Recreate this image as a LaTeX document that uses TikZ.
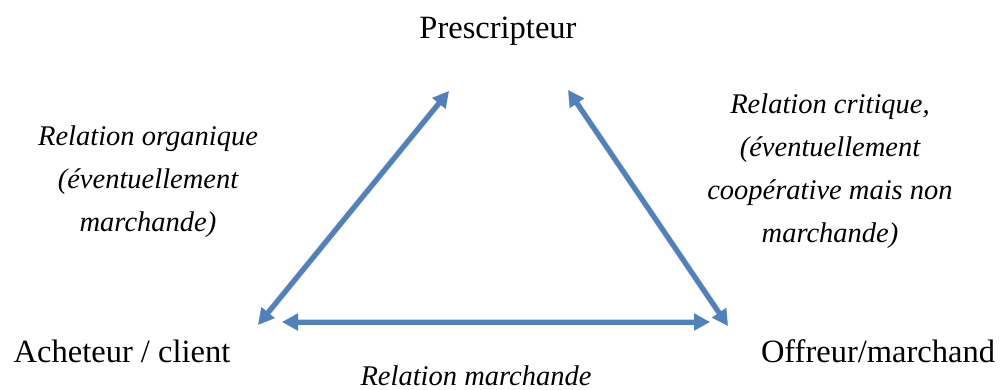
\documentclass[tikz,border=0pt]{standalone}
\usepackage{fontspec}
\setmainfont{Liberation Serif}
\usetikzlibrary{arrows.meta}
\definecolor{relblue}{RGB}{79,129,189}
\begin{document}
\begin{tikzpicture}[x=1pt,y=-1pt,
  actor/.style={inner sep=0pt,anchor=base,font=\fontsize{32.5}{43}\selectfont},
  rellabel/.style={inner sep=0pt,anchor=north,align=center,font=\fontsize{28.5}{43}\selectfont\itshape},
  relarrow/.style={draw=relblue,line width=5pt,{Triangle[length=16pt,width=16pt]}-{Triangle[length=16pt,width=16pt]}},
  relshadow/.style={draw=black,opacity=0.18,line width=6pt,{Triangle[length=16pt,width=17pt]}-{Triangle[length=16pt,width=17pt]}}]
\useasboundingbox (0,0) rectangle (1002,390);
% actors
\node[actor] (P) at (498,39) {Prescripteur};
\node[actor] (A) at (122,362) {Acheteur / client};
\node[actor] (O) at (878,362) {Offreur/marchand};
% arrow ends
\coordinate (AP1) at (258,325);
\coordinate (AP2) at (449,91);
\coordinate (PO1) at (568,90);
\coordinate (PO2) at (728,326);
\coordinate (AO1) at (282,322);
\coordinate (AO2) at (710,322);
% shadows
\begin{scope}[shift={(1.5,2.5)}]
\draw[relshadow] (AP1) -- (AP2);
\draw[relshadow] (PO1) -- (PO2);
\draw[relshadow] (AO1) -- (AO2);
\end{scope}
% arrows
\draw[relarrow] (AP1) -- (AP2);
\draw[relarrow] (PO1) -- (PO2);
\draw[relarrow] (AO1) -- (AO2);
% labels
\node[rellabel] (Lorg) at (148,126) {Relation organique\\(éventuellement\\marchande)};
\node[rellabel] (Lcrit) at (830,94) {Relation critique,\\(éventuellement\\coopérative mais non\\marchande)};
\node[inner sep=0pt,anchor=base,font=\fontsize{28.5}{43}\selectfont\itshape] (Lmar) at (476,385) {Relation marchande};
\end{tikzpicture}
\end{document}
